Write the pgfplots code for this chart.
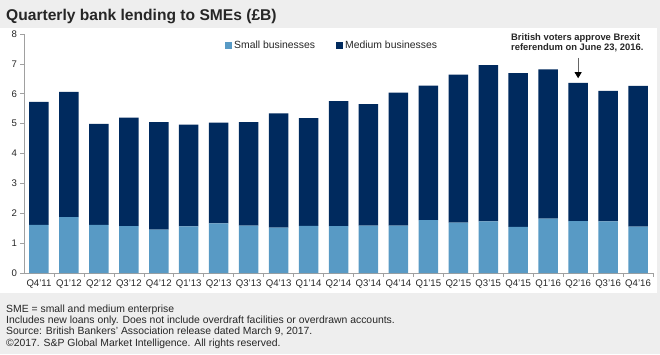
\documentclass[border=0pt]{standalone}
\usepackage{fontspec}
\setmainfont{Liberation Sans}
\usepackage{pgfplots}
\pgfplotsset{compat=1.18}
\usepackage{pgfplotstable}
\usetikzlibrary{arrows.meta}
\definecolor{bggray}{RGB}{238,238,238}
\definecolor{smallc}{RGB}{88,154,197}
\definecolor{medc}{RGB}{0,42,94}
\definecolor{axgray}{RGB}{160,160,160}

\pgfplotstableread{
idx small medium
0 1.61 4.12
1 1.87 4.19
2 1.61 3.38
3 1.57 3.63
4 1.45 3.60
5 1.56 3.41
6 1.66 3.37
7 1.59 3.46
8 1.52 3.82
9 1.58 3.60
10 1.57 4.18
11 1.59 4.06
12 1.59 4.45
13 1.77 4.50
14 1.69 4.95
15 1.73 5.23
16 1.54 5.15
17 1.82 5.00
18 1.74 4.62
19 1.73 4.37
20 1.55 4.71
}\lending

\begin{document}
\begin{tikzpicture}[x=1bp,y=1bp]
\fill[bggray] (0,0) rectangle (660,354);
\fill[white] (0,61) rectangle (657,326);
\node[anchor=base west, inner sep=0pt, font=\fontsize{15.6bp}{18bp}\selectfont\bfseries, text=black!85] at (6,334) {Quarterly bank lending to SMEs (£B)};
\begin{axis}[
  at={(24bp,81bp)}, anchor=south west,
  scale only axis, width=629bp, height=239bp,
  xmin=-0.5, xmax=20.5, ymin=0, ymax=8,
  ybar stacked, bar width=19.5bp,
  clip=false,
  axis x line*=bottom, axis y line*=left,
  axis line style={axgray, line width=0.6bp, -},
  xtick={0,...,20},
  xticklabels={Q4'11,Q1'12,Q2'12,Q3'12,Q4'12,Q1'13,Q2'13,Q3'13,Q4'13,Q1'14,Q2'14,Q3'14,Q4'14,Q1'15,Q2'15,Q3'15,Q4'15,Q1'16,Q2'16,Q3'16,Q4'16},
  minor xtick={0.5,1.5,...,20.5},
  major x tick style={draw=none},
  minor x tick style={axgray, line width=0.6bp},
  ytick={0,1,...,8},
  y tick style={axgray, line width=0.6bp},
  tick align=outside,
  major tick length=3.5bp, minor tick length=3.5bp,
  /pgf/number format/assume math mode=true,
  x tick label style={font=\fontsize{9.6bp}{11bp}\selectfont, text=black!85, yshift=0bp},
  y tick label style={font=\fontsize{9.6bp}{11bp}\selectfont, text=black!85},
  legend style={draw=none, fill=none, inner sep=0pt, at={(0.3196,0.95)}, anchor=west,
    font=\fontsize{10.4bp}{12bp}\selectfont, text=black!85,
    /tikz/every even column/.append style={column sep=19bp}},
  legend columns=2,
  legend image code/.code={\fill[#1] (0bp,-3.5bp) rectangle (7bp,3.5bp);},
]
\addplot[fill=smallc, draw=none] table[x=idx, y=small] {\lending};
\addplot[fill=medc, draw=none] table[x=idx, y=medium] {\lending};
\legend{Small businesses, Medium businesses}
\draw[black!60, line width=0.8bp, -{Triangle[black, length=6bp, width=7bp]}] (axis cs:18,7.2) -- (axis cs:18,6.52);
\end{axis}
\node[anchor=base west, inner sep=0pt, align=left, font=\fontsize{9.4bp}{10bp}\selectfont\bfseries, text=black!85] at (511,313.5) {British voters approve Brexit};
\node[anchor=base west, inner sep=0pt, align=left, font=\fontsize{9.4bp}{10bp}\selectfont\bfseries, text=black!85] at (511,303.5) {referendum on June 23, 2016.};
\begin{scope}[every node/.style={anchor=base west, inner sep=0pt, font=\fontsize{10.4bp}{12bp}\selectfont, text=black!85}]
\node at (6,42) {SME = small and medium enterprise};
\node at (6,30.7) {Includes new loans only. Does not include overdraft facilities or overdrawn accounts.};
\node at (6,19.7) {Source: British Bankers' Association release dated March 9, 2017.};
\node at (6,8) {\textcopyright2017. S\&P Global Market Intelligence. All rights reserved.};
\end{scope}
\end{tikzpicture}
\end{document}
